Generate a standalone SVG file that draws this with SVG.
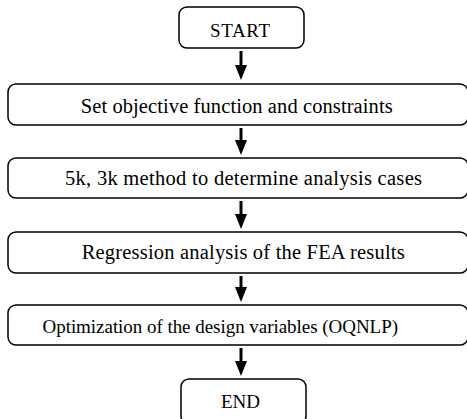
<svg xmlns="http://www.w3.org/2000/svg" width="467" height="419" viewBox="0 0 467 419">
<style>
.box{fill:#fff;stroke:#000;stroke-width:1.5}
.t{font-family:"Liberation Serif","Times New Roman",serif;font-size:20.5px;fill:#000}
.s{font-size:19px}
.c{stroke:#000;stroke-width:3;fill:none}
</style>
<rect width="467" height="419" fill="#fff"/>
<g id="connectors">
<path d="M241,51 V65" class="c"/><path d="M235,65 H247 L241,80 Z"/>
<path d="M241,128 V140" class="c"/><path d="M235,140 H247 L241,155 Z"/>
<path d="M241,201 V214" class="c"/><path d="M235,214 H247 L241,229 Z"/>
<path d="M241,276 V287" class="c"/><path d="M235,287 H247 L241,302 Z"/>
<path d="M241,348 V361" class="c"/><path d="M235,361 H247 L241,376 Z"/>
</g>
<g id="start"><rect class="box" x="179" y="7" width="125" height="41" rx="8"/><text class="t s" x="210" y="37" textLength="60" lengthAdjust="spacing">START</text></g>
<g id="step1"><rect class="box" x="8" y="84" width="460" height="41" rx="8"/><text class="t" x="80.7" y="112.5" textLength="312" lengthAdjust="spacing">Set objective function and constraints</text></g>
<g id="step2"><rect class="box" x="8" y="158" width="460" height="40" rx="8"/><text class="t" x="65" y="185" textLength="357" lengthAdjust="spacing">5k, 3k method to determine analysis cases</text></g>
<g id="step3"><rect class="box" x="8" y="232" width="460" height="41" rx="8"/><text class="t" x="81.7" y="258.5" textLength="323" lengthAdjust="spacing">Regression analysis of the FEA results</text></g>
<g id="step4"><rect class="box" x="8" y="305" width="460" height="40" rx="8"/><text class="t s" x="42.5" y="333" textLength="355.5" lengthAdjust="spacing">Optimization of the design variables (OQNLP)</text></g>
<g id="end"><rect class="box" x="181" y="379" width="125" height="45" rx="8"/><text class="t s" x="221" y="408" textLength="39" lengthAdjust="spacing">END</text></g>
</svg>
